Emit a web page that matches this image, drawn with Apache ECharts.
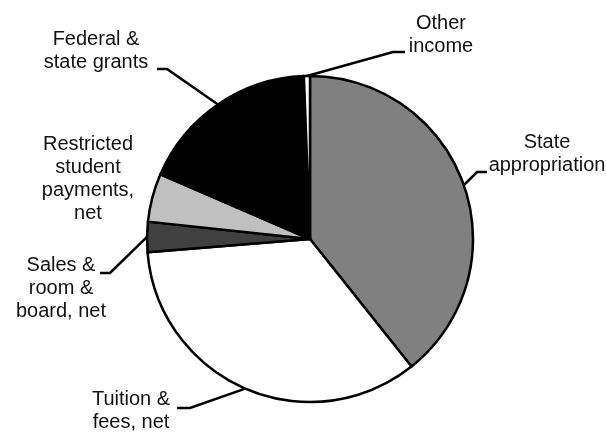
<!DOCTYPE html>
<html>
<head>
<meta charset="utf-8">
<script src="https://cdn.jsdelivr.net/npm/echarts@6/dist/echarts.min.js"></script>
<style>
  html, body { margin: 0; padding: 0; background: #fff; }
  #revenuePie { width: 606px; height: 434px; }
</style>
</head>
<body>
<div id="revenuePie"></div>
<script>
// revenue sources, clockwise from 12 o'clock (percent of total)
const categories = [
  'State\nappropriation',
  'Tuition &\nfees, net',
  'Sales &\nroom &\nboard, net',
  'Restricted\nstudent\npayments,\nnet',
  'Federal &\nstate grants',
  'Other\nincome'
]
const shares = [39.3, 34.4, 3.0, 4.8, 17.9, 0.6]

// slice fills (greyscale like the original)
const fills = ['#808080', '#ffffff', '#404040', '#c0c0c0', '#000000', '#ffffff']

// where each label block sits (centre x, top y) and its leader elbow
const labelPlace = [
  { x: 547, y: 131, knee: [477, 172], end: [487, 172] },
  { x: 131, y: 388, knee: [190, 408], end: [177, 408] },
  { x: 61, y: 254, knee: [110, 273], end: [100, 273] },
  { x: 88, y: 133 },
  { x: 96, y: 28, knee: [167, 69], end: [157, 69] },
  { x: 441, y: 12, knee: [393, 52], end: [405, 52] }
]

const leaderStyle = { color: '#000', width: 2.5 }

const chart = echarts.init(document.getElementById('revenuePie'))

chart.setOption({
  animation: false,
  textStyle: { fontFamily: '"Liberation Sans", Arial, sans-serif' },
  series: [
    {
      type: 'pie',
      center: [310, 239],
      radius: 163,
      startAngle: 90,
      clockwise: true,
      avoidLabelOverlap: false,
      emphasis: { disabled: true },
      itemStyle: { borderColor: '#000', borderWidth: 2.5 },
      label: {
        show: true,
        position: 'outside',
        color: '#111',
        fontSize: 20,
        lineHeight: 23,
        align: 'center',
        formatter: '{b}'
      },
      labelLine: {
        show: true,
        lineStyle: leaderStyle
      },
      labelLayout: function (params) {
        const p = labelPlace[params.dataIndex]
        const out = { x: p.x, y: p.y, align: 'center', verticalAlign: 'top' }
        if (p.knee) {
          // start the leader on the rim, at the middle of the slice
          const lay = chart.getModel().getSeriesByIndex(0).getData().getItemLayout(params.dataIndex)
          const mid = (lay.startAngle + lay.endAngle) / 2
          const start = [lay.cx + lay.r * Math.cos(mid), lay.cy + lay.r * Math.sin(mid)]
          out.labelLinePoints = [start, p.knee, p.end]
        }
        return out
      },
      data: shares.map((v, i) => ({
        name: categories[i],
        value: v,
        itemStyle: { color: fills[i] },
        labelLine: { show: !!labelPlace[i].knee, lineStyle: leaderStyle }
      }))
    }
  ]
})
</script>
</body>
</html>
